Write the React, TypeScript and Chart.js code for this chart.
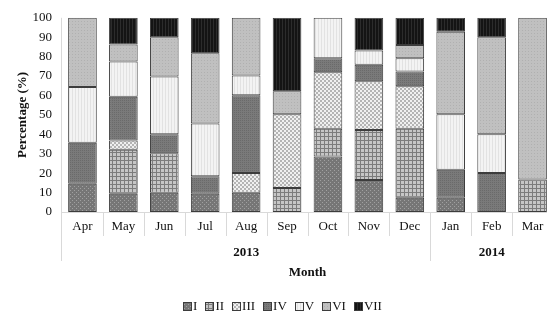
import React, { useEffect, useRef } from 'react';
import { Chart, registerables } from 'chart.js';

Chart.register(...registerables);

const months = ['Apr', 'May', 'Jun', 'Jul', 'Aug', 'Sep', 'Oct', 'Nov', 'Dec', 'Jan', 'Feb', 'Mar'];
const yearLabels = ['2013', '2014'];
const yearSpans = [9, 3];
const seriesNames = ['I', 'II', 'III', 'IV', 'V', 'VI', 'VII'];

const seriesI = [14.5, 9.4, 9.9, 9.4, 9.9, 0, 28.6, 16.5, 7.3, 7.3, 0, 0];
const seriesII = [0, 22.6, 20.4, 0, 0, 12.4, 14.3, 25.7, 35.6, 0, 0, 16.7];
const seriesIII = [0, 4.8, 0, 0, 10.2, 37.9, 29.0, 25.1, 21.8, 0, 0, 0];
const seriesIV = [21.2, 22.5, 9.7, 9.0, 40.0, 0, 7.3, 8.5, 7.7, 14.5, 20.1, 0];
const seriesV = [28.7, 18.2, 29.8, 27.2, 10.2, 0, 20.8, 7.3, 6.8, 28.5, 19.9, 0];
const seriesVI = [35.6, 8.8, 20.2, 36.2, 29.7, 11.9, 0, 0, 6.8, 42.5, 50.0, 83.3];
const seriesVII = [0, 13.7, 10.0, 18.2, 0, 37.8, 0, 16.9, 14.0, 7.2, 10.0, 0];

const yTicks = [0, 10, 20, 30, 40, 50, 60, 70, 80, 90, 100];

const FONT = '"Liberation Serif", "Times New Roman", serif';

function makePattern(size: number, draw: (g: CanvasRenderingContext2D) => void) {
  const c = document.createElement('canvas');
  c.width = size;
  c.height = size;
  const g = c.getContext('2d')!;
  draw(g);
  return g.createPattern(c, 'repeat');
}

function buildPatterns() {
  return [
    makePattern(4, (g) => {
      g.fillStyle = '#767676'; g.fillRect(0, 0, 4, 4);
      g.fillStyle = '#a0a0a0'; g.fillRect(0, 0, 1, 1); g.fillRect(2, 2, 1, 1);
    }),
    makePattern(4, (g) => {
      g.fillStyle = '#c6c6c6'; g.fillRect(0, 0, 4, 4);
      g.fillStyle = '#7c7c7c'; g.fillRect(0, 0, 1, 4); g.fillRect(0, 0, 4, 1);
    }),
    makePattern(4, (g) => {
      g.fillStyle = '#f0f0f0'; g.fillRect(0, 0, 4, 4);
      g.fillStyle = '#b4b4b4'; g.fillRect(0, 0, 2, 2); g.fillRect(2, 2, 2, 2);
    }),
    makePattern(2, (g) => {
      g.fillStyle = '#7a7a7a'; g.fillRect(0, 0, 2, 2);
      g.fillStyle = '#6a6a6a'; g.fillRect(0, 0, 1, 1);
    }),
    makePattern(3, (g) => {
      g.fillStyle = '#f3f3f3'; g.fillRect(0, 0, 3, 3);
      g.fillStyle = '#e2e2e2'; g.fillRect(0, 0, 1, 3);
    }),
    makePattern(3, (g) => {
      g.fillStyle = '#c0c0c0'; g.fillRect(0, 0, 3, 3);
      g.fillStyle = '#b0b0b0'; g.fillRect(0, 0, 1, 1);
    }),
    makePattern(3, (g) => {
      g.fillStyle = '#141414'; g.fillRect(0, 0, 3, 3);
      g.fillStyle = '#2c2c2c'; g.fillRect(0, 0, 1, 3);
    }),
  ];
}

const groupAxisPlugin = {
  id: 'groupAxis',
  afterDraw(chart: any) {
    const { ctx, chartArea, scales } = chart;
    const x = scales.x;
    const n = months.length;
    const step = x.getPixelForValue(1) - x.getPixelForValue(0);
    const boundary = (i: number) => x.getPixelForValue(i) - step / 2;
    const base = chartArea.bottom;
    const monthSepBottom = base + 24;
    const yearSepBottom = base + 49;
    ctx.save();
    ctx.strokeStyle = '#d9d9d9';
    ctx.lineWidth = 1;
    const lx = Math.round(chartArea.left) - 0.5;
    ctx.beginPath();
    ctx.moveTo(lx, chartArea.top);
    ctx.lineTo(lx, yearSepBottom);
    ctx.stroke();
    const yearStarts: number[] = [];
    let acc = 0;
    yearSpans.forEach((s) => { yearStarts.push(acc); acc += s; });
    for (let i = 1; i < n; i++) {
      const bx = Math.round(boundary(i)) + 0.5;
      const isYear = yearStarts.includes(i);
      ctx.beginPath();
      ctx.moveTo(bx, base);
      ctx.lineTo(bx, isYear ? yearSepBottom : monthSepBottom);
      ctx.stroke();
    }
    const endX = Math.round(boundary(n)) + 0.5;
    ctx.beginPath();
    ctx.moveTo(endX, base);
    ctx.lineTo(endX, yearSepBottom);
    ctx.stroke();
    ctx.fillStyle = '#111';
    ctx.font = `bold 13px ${FONT}`;
    ctx.textAlign = 'center';
    ctx.textBaseline = 'middle';
    yearLabels.forEach((lab, k) => {
      const a = boundary(yearStarts[k]);
      const b = boundary(yearStarts[k] + yearSpans[k]);
      ctx.fillText(lab, (a + b) / 2, base + 40.5);
    });

    // legend (compact: small gap between box and text)
    const boxSize = 8;
    const gap = 2;
    const itemGap = 8;
    ctx.font = `13px ${FONT}`;
    const ds = chart.data.datasets;
    const widths = ds.map((d: any) => boxSize + gap + ctx.measureText(d.label).width);
    const total = widths.reduce((a: number, b: number) => a + b, 0) + itemGap * (ds.length - 1);
    let cx = 282.5 - total / 2;
    const cy = base + 94;
    ctx.textAlign = 'left';
    ds.forEach((d: any, i: number) => {
      const bx = Math.round(cx) + 0.5;
      const by = Math.round(cy - boxSize / 2) + 0.5;
      ctx.fillStyle = d.backgroundColor;
      ctx.fillRect(bx, by, boxSize, boxSize);
      ctx.strokeStyle = '#3c3c3c';
      ctx.lineWidth = 1;
      ctx.strokeRect(bx, by, boxSize, boxSize);
      ctx.fillStyle = '#111';
      ctx.fillText(d.label, cx + boxSize + gap, cy + 0.5);
      cx += widths[i] + itemGap;
    });
    ctx.restore();
  },
};

export default function App() {
  const ref = useRef<HTMLCanvasElement>(null);

  useEffect(() => {
    const canvas = ref.current!;
    const patterns = buildPatterns();
    const values = [seriesI, seriesII, seriesIII, seriesIV, seriesV, seriesVI, seriesVII];
    const chart = new Chart(canvas, {
      type: 'bar',
      data: {
        labels: months,
        datasets: values.map((v, i) => ({
          label: seriesNames[i],
          data: v,
          backgroundColor: patterns[i] as any,
          borderColor: '#3c3c3c',
          borderWidth: 1,
          borderSkipped: false,
          barPercentage: 0.7,
          categoryPercentage: 1,
        })),
      },
      options: {
        responsive: false,
        animation: false,
        devicePixelRatio: 1,
        events: [],
        layout: { padding: { top: 16, left: 12, right: 13, bottom: 26.5 } },
        plugins: {
          tooltip: { enabled: false },
          legend: { display: false },
        },
        scales: {
          x: {
            stacked: true,
            grid: { display: false, drawTicks: false },
            border: { display: true, color: '#d9d9d9' },
            ticks: {
              color: '#111',
              font: { family: FONT, size: 13 },
              padding: 7,
              maxRotation: 0,
              autoSkip: false,
            },
            title: {
              display: true,
              text: 'Month',
              color: '#111',
              font: { family: FONT, size: 13, weight: 'bold' },
              padding: { top: 0, bottom: 16 },
            },
            afterFit: (s: any) => { s.height = 84.5; },
          },
          y: {
            stacked: true,
            min: 0,
            max: 100,
            afterBuildTicks: (s: any) => { s.ticks = yTicks.map((v) => ({ value: v })); },
            grid: { display: false, drawTicks: false },
            border: { display: false },
            ticks: {
              color: '#111',
              font: { family: FONT, size: 13 },
              padding: 10,
            },
            title: {
              display: true,
              text: 'Percentage (%)',
              color: '#111',
              font: { family: FONT, size: 13, weight: 'bold' },
              padding: { top: 3, bottom: 0 },
            },
            afterFit: (s: any) => { s.width = 50; },
          },
        },
      },
      plugins: [groupAxisPlugin],
    });
    return () => chart.destroy();
  }, []);

  return (
    <div style={{ position: 'fixed', left: 0, top: 0, width: 547, height: 315, overflow: 'hidden', background: '#fff' }}>
      <canvas ref={ref} width={566} height={323} style={{ display: 'block', width: 566, height: 323 }} />
    </div>
  );
}
